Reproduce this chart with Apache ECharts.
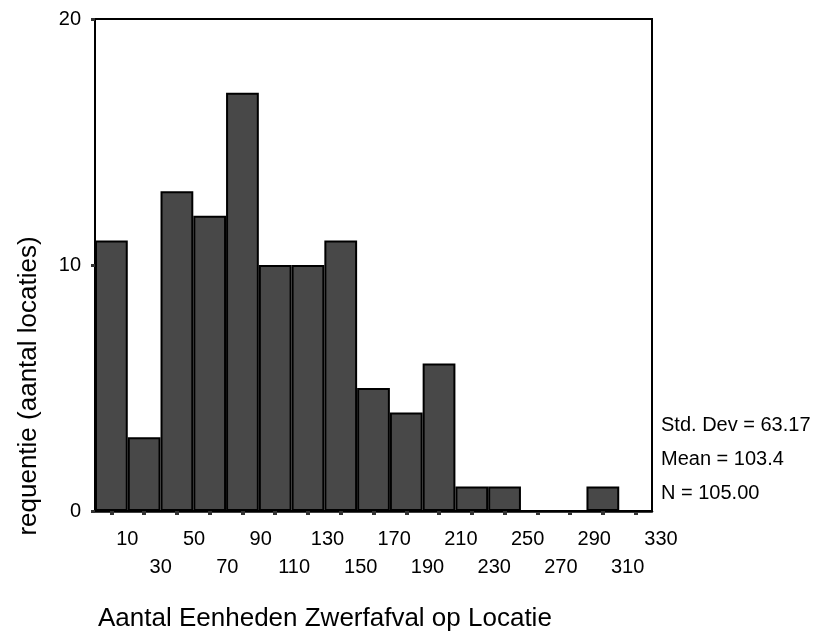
<!DOCTYPE html>
<html>
<head>
<meta charset="utf-8">
<script src="https://cdn.jsdelivr.net/npm/echarts@6/dist/echarts.min.js"></script>
<style>
  html, body { margin: 0; padding: 0; background: #fff; }
  #chart { width: 815px; height: 633px; }
</style>
</head>
<body>
<div id="chart"></div>
<script>
// Histogram bins (bin centres) and frequencies
const categories = ['10','30','50','70','90','110','130','150','170','190','210','230','250','270','290','310','330'];
const frequencies = [11, 3, 13, 12, 17, 10, 10, 11, 5, 4, 6, 1, 1, 0, 0, 1, 0];
// Tick labels drawn under the axis (SPSS-style staggered labels)
const tickLabelOffset = 10;
const yTickValues = [0, 10, 20];
const statLines = ['Std. Dev = 63.17', 'Mean = 103.4', 'N = 105.00'];
const xTitle = 'Aantal Eenheden Zwerfafval op Locatie';
const yTitle = 'requentie (aantal locaties)';

const FONT = 'Liberation Sans, Arial, Helvetica, sans-serif';
const chart = echarts.init(document.getElementById('chart'), null, { renderer: 'canvas' });

chart.setOption({
  animation: false,
  backgroundColor: '#fff',
  textStyle: { fontFamily: FONT },
  grid: [
    { left: 95, right: 163, top: 19, bottom: 122, show: true, borderColor: '#000', borderWidth: 2, backgroundColor: 'transparent' },
    { left: 127.3, width: 533.7, top: 19, bottom: 122, show: false }
  ],
  xAxis: [
    {
      type: 'category', gridIndex: 0, data: categories,
      axisLine: { show: true, lineStyle: { color: '#000', width: 2.5 } },
      axisTick: { show: true, alignWithLabel: true, length: 4, lineStyle: { color: '#333', width: 4 } },
      axisLabel: { show: false },
      splitLine: { show: false }
    },
    {
      type: 'value', gridIndex: 1, min: 0, max: 320, interval: 20,
      axisLine: { show: false }, axisTick: { show: false }, splitLine: { show: false },
      axisLabel: {
        show: true, margin: 14, color: '#000', fontSize: 20, fontFamily: FONT, lineHeight: 28,
        formatter: function (v) {
          const lab = String(v + tickLabelOffset);
          return (Math.round(v / 20) % 2 === 0) ? lab : '\n' + lab;
        }
      }
    }
  ],
  yAxis: [
    {
      type: 'value', gridIndex: 0, min: 0, max: 20, interval: 10,
      axisLine: { show: true, lineStyle: { color: '#000', width: 2 } },
      axisTick: { show: true, length: 4, lineStyle: { color: '#333', width: 3 } },
      axisLabel: { show: true, margin: 14, color: '#000', fontSize: 20, fontFamily: FONT,
        formatter: function (v) { return yTickValues.indexOf(v) >= 0 ? String(v) : ''; } },
      splitLine: { show: false }
    },
    { type: 'value', gridIndex: 1, min: 0, max: 1, show: false }
  ],
  series: [
    {
      type: 'bar', xAxisIndex: 0, yAxisIndex: 0, data: frequencies,
      barCategoryGap: '0%',
      itemStyle: { color: '#484848', borderColor: '#000', borderWidth: 2 },
      emphasis: { disabled: true }
    }
  ],
  graphic: [
    {
      type: 'text', left: 661, top: 408,
      style: { text: statLines.join('\n'), font: '20px ' + FONT, fill: '#000', lineHeight: 34 }
    },
    {
      type: 'text', x: 98, y: 619,
      style: { text: xTitle, font: '26px ' + FONT, fill: '#000', textAlign: 'left', textVerticalAlign: 'middle' }
    },
    {
      type: 'text', x: 29, y: 386, rotation: Math.PI / 2,
      style: { text: yTitle, font: '26px ' + FONT, fill: '#000', textAlign: 'center', textVerticalAlign: 'middle' }
    }
  ]
});
</script>
</body>
</html>
